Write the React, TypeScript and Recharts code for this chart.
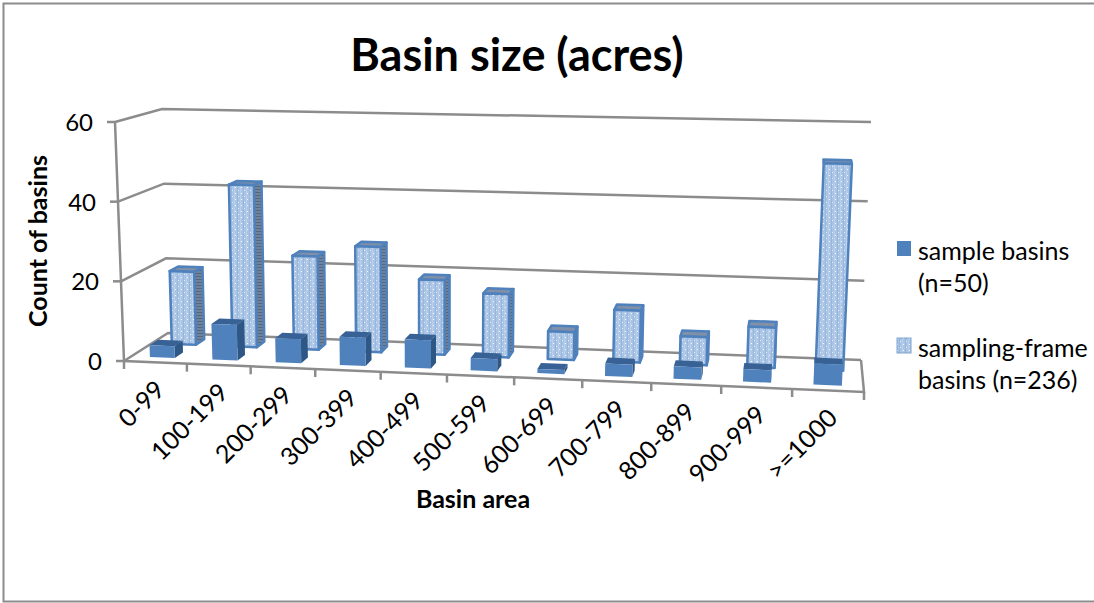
import React from "react";
import { ComposedChart, Bar, XAxis, YAxis, CartesianGrid, Legend } from "recharts";

// Chart values
const categories = ["0-99", "100-199", "200-299", "300-399", "400-499", "500-599", "600-699", "700-799", "800-899", "900-999", ">=1000"];
const sampleBasins = [3, 9, 6, 7, 7, 3, 1, 3, 3, 3, 5];
const samplingFrameBasins = [19, 42, 24, 27, 19, 16, 7, 13, 7, 10, 51];
const yTicks = [0, 20, 40, 60];

const rows = categories.map((category, i) => ({
  category,
  sample: sampleBasins[i],
  frame: samplingFrameBasins[i],
}));

// Plot rectangle that the library scales work in; every 3D point is projected out of it.
const PLOT = { left: 124, top: 122, width: 740, height: 239 };
// Both series sit in the same slot of each category, one behind the other.
const BAR_WIDTH = (PLOT.width / categories.length) * 0.4;

type Pt = [number, number];
// Corners of the 3D box: floor and ceiling, front and back.
const BOX = {
  floorFrontLeft: [124, 361] as Pt,
  floorFrontRight: [864, 392] as Pt,
  floorBackLeft: [168, 333] as Pt,
  floorBackRight: [861, 360] as Pt,
  topFrontLeft: [115, 122] as Pt,
  topFrontRight: [876, 138] as Pt,
  topBackLeft: [162, 109] as Pt,
  topBackRight: [871, 122] as Pt,
};
const PERSPECTIVE = 1.076;

const mix = (a: Pt, b: Pt, t: number): Pt => [a[0] + (b[0] - a[0]) * t, a[1] + (b[1] - a[1]) * t];

// u: across (0..1), depth: front to back (0..1), v: floor to top (0..1)
function project(u: number, depth: number, v: number): Pt {
  const w = u / (PERSPECTIVE * (1 - u) + u);
  const floor = mix(mix(BOX.floorFrontLeft, BOX.floorFrontRight, w), mix(BOX.floorBackLeft, BOX.floorBackRight, w), depth);
  const top = mix(mix(BOX.topFrontLeft, BOX.topFrontRight, w), mix(BOX.topBackLeft, BOX.topBackRight, w), depth);
  return mix(floor, top, v);
}

const fromPlot = (px: number, py: number, depth: number): Pt =>
  project((px - PLOT.left) / PLOT.width, depth, (PLOT.top + PLOT.height - py) / PLOT.height);

const poly = (pts: Pt[]) => pts.map((p) => `${p[0].toFixed(1)},${p[1].toFixed(1)}`).join(" ");

type FaceStyle = { front: string; side: string; top: string; stroke?: string; depth: [number, number]; shift: number };

// Draws one bar as a small box between two depths of the floor.
function boxShape(style: FaceStyle) {
  return function BoxBar(props: any) {
    const { y, width, height } = props;
    const x = props.x + style.shift;
    const [d0, d1] = style.depth;
    const fbl = fromPlot(x, y + height, d0);
    const fbr = fromPlot(x + width, y + height, d0);
    const ftl = fromPlot(x, y, d0);
    const ftr = fromPlot(x + width, y, d0);
    const bbr = fromPlot(x + width, y + height, d1);
    const btl = fromPlot(x, y, d1);
    const btr = fromPlot(x + width, y, d1);
    const line = style.stroke
      ? { stroke: style.stroke, strokeWidth: 2.5, strokeLinejoin: "round" as const }
      : {};
    return (
      <g>
        {btr[0] > ftr[0] + 0.5 && <polygon points={poly([fbr, ftr, btr, bbr])} fill={style.side} {...line} />}
        <polygon points={poly([ftl, ftr, btr, btl])} fill={style.top} {...line} />
        <polygon points={poly([fbl, ftl, ftr, fbr])} fill={style.front} {...line} />
      </g>
    );
  };
}

const SampleBox = boxShape({ front: "#4F81BD", side: "#2F5785", top: "#386196", depth: [0.17, 0.37], shift: 0 });
const FrameBox = boxShape({
  front: "url(#frameDots)",
  side: "url(#frameSide)",
  top: "#7F90A8",
  stroke: "#4F81BD",
  depth: [0.64, 0.84],
  shift: 2,
});

const WALL = { stroke: "#8C8C8C", strokeWidth: 2.5, fill: "none" };

// Each grid line runs along the left wall and the back wall; the floor outline goes with the zero line.
function WallLine(props: any) {
  const v = (PLOT.top + PLOT.height - props.y1) / PLOT.height;
  const isFloor = v < 0.001;
  return (
    <g>
      <polyline points={poly([project(0, 0, v), project(0, 1, v), project(1, 1, v)])} {...WALL} />
      {isFloor && (
        <polyline points={poly([project(0, 0, 1), project(0, 0, 0), project(1, 0, 0), project(1, 1, 0)])} {...WALL} />
      )}
    </g>
  );
}

function ValueTick(props: any) {
  const v = (PLOT.top + PLOT.height - props.y) / PLOT.height;
  const p = project(0, 0, v);
  return (
    <g>
      <line x1={p[0]} y1={p[1]} x2={p[0] - 8} y2={p[1]} {...WALL} />
      <text x={p[0] - 22} y={p[1]} dy={9} textAnchor="end" fontFamily="Lato" fontSize={24} fill="#000">
        {props.payload.value}
      </text>
    </g>
  );
}

function CategoryTick(props: any) {
  const band = PLOT.width / categories.length;
  const index = props.index as number;
  const center = (props.x - PLOT.left) / PLOT.width;
  const left = (props.x - band / 2 - PLOT.left) / PLOT.width;
  const a = project(left, 0, 0);
  const last = project(1, 0, 0);
  const c = project(center, 0, 0);
  return (
    <g>
      <line x1={a[0]} y1={a[1]} x2={a[0]} y2={a[1] + 8} {...WALL} />
      {index === categories.length - 1 && <line x1={last[0]} y1={last[1]} x2={last[0]} y2={last[1] + 8} {...WALL} />}
      <text
        x={c[0] + 11}
        y={c[1] + 29}
        textAnchor="end"
        fontFamily="Lato"
        fontSize={25}
        fill="#000"
        transform={`rotate(-45 ${c[0] + 11} ${c[1] + 29})`}
      >
        {props.payload.value}
      </text>
    </g>
  );
}

function LegendBlock(props: any) {
  const items = [...(props.payload ?? [])].sort((a: any, b: any) => (a.dataKey === "sample" ? -1 : b.dataKey === "sample" ? 1 : 0));
  return (
    <div>
      {items.map((item: any) => (
        <div key={item.dataKey} style={{ display: "flex", height: 97, alignItems: "flex-start" }}>
          <svg width={22} height={32} style={{ flex: "none" }}>
            <rect x={1} y={7} width={14} height={15} fill={item.dataKey === "sample" ? "#4F81BD" : "url(#frameDots)"} stroke={item.dataKey === "sample" ? "none" : "#7FA3D0"} />
          </svg>
          <span style={{ fontFamily: "Lato", fontSize: 25, lineHeight: "32px", color: "#000", width: 174 }}>{item.value}</span>
        </div>
      ))}
    </div>
  );
}

export default function App() {
  return (
    <div style={{ position: "absolute", left: 0, top: 0, width: 1094, height: 603, background: "#fff" }}>
      <ComposedChart
        width={1094}
        height={603}
        data={rows}
        barSize={BAR_WIDTH}
        barGap={-BAR_WIDTH}
        margin={{ left: PLOT.left - 30, right: 1094 - PLOT.left - PLOT.width, top: PLOT.top, bottom: 603 - PLOT.top - PLOT.height - 30 }}
      >
        <defs>
          <pattern id="frameDots" width="6" height="6" patternUnits="userSpaceOnUse">
            <rect width="6" height="6" fill="#A9C4E4" />
            <rect x="0" y="0" width="1" height="6" fill="#BBD0EA" />
            <rect x="3" y="0" width="1" height="6" fill="#98B7DC" />
            <rect x="1" y="1" width="1" height="1" fill="#F4F8FC" />
            <rect x="4" y="4" width="1" height="1" fill="#E4EDF7" />
          </pattern>
          <pattern id="frameSide" width="3" height="3" patternUnits="userSpaceOnUse">
            <rect width="3" height="3" fill="#71839A" />
            <rect width="3" height="1" fill="#55677E" />
          </pattern>
        </defs>
        <rect x={3.5} y={3.5} width={1100} height={598} fill="none" stroke="#8C8C8C" strokeWidth={2} />
        <text x={517} y={71} textAnchor="middle" fontFamily="Lato" fontWeight={700} fontSize={45} fill="#000">
          Basin size (acres)
        </text>
        <text x={0} y={0} transform="translate(47 241) rotate(-90)" textAnchor="middle" fontFamily="Lato" fontWeight={700} fontSize={25} fill="#000">
          Count of basins
        </text>
        <text x={473} y={508} textAnchor="middle" fontFamily="Lato" fontWeight={700} fontSize={25} fill="#000">
          Basin area
        </text>
        <CartesianGrid horizontal={WallLine} vertical={false} />
        <XAxis dataKey="category" height={30} interval={0} axisLine={false} tickLine={false} tick={CategoryTick} />
        <YAxis width={30} domain={[0, 60]} ticks={yTicks} axisLine={false} tickLine={false} tick={ValueTick} />
        <Bar dataKey="frame" name="sampling-frame basins (n=236)" fill="#A9C4E4" shape={FrameBox} isAnimationActive={false} />
        <Bar dataKey="sample" name="sample basins (n=50)" fill="#4F81BD" shape={SampleBox} isAnimationActive={false} />
        <Legend
          layout="vertical"
          align="center"
          verticalAlign="middle"
          wrapperStyle={{ left: 896, top: 234, width: 198, height: 200 }}
          content={LegendBlock}
        />
      </ComposedChart>
    </div>
  );
}
